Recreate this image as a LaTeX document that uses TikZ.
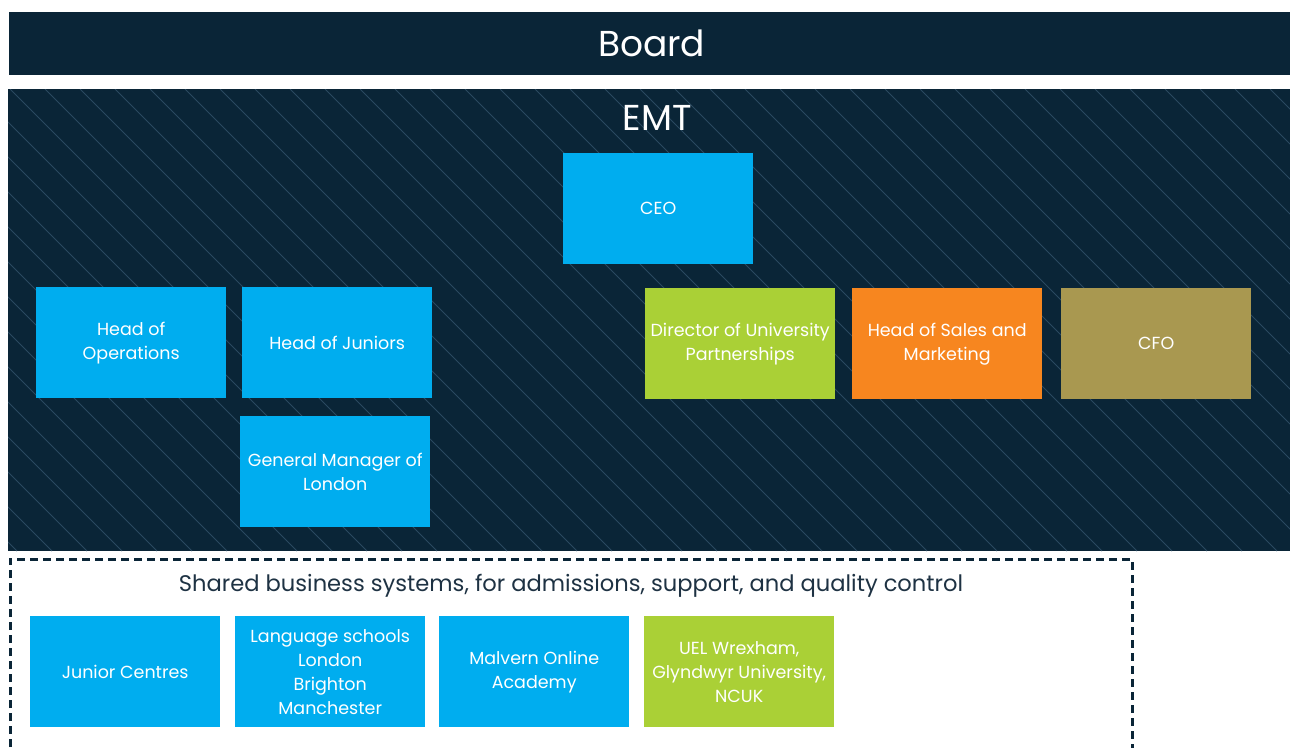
\documentclass[tikz,border=0pt]{standalone}
\usepackage{fontspec}
\setmainfont{Poppins}
\usetikzlibrary{positioning, calc}

\definecolor{navy}{HTML}{0A2537}
\definecolor{hatchline}{HTML}{2A4960}
\definecolor{roleblue}{HTML}{00ADEF}
\definecolor{rolegreen}{HTML}{AAD036}
\definecolor{roleorange}{HTML}{F7861F}
\definecolor{roleolive}{HTML}{A99850}
\definecolor{darktext}{HTML}{1E3243}

\begin{document}
\begin{tikzpicture}[
  x=1pt, y=-1pt,
  band/.style    = {fill=navy, inner sep=0pt, anchor=north west},
  title/.style   = {text=white, font=\fontsize{36}{40}\selectfont},
  hatch/.style   = {draw=hatchline, line width=0.9pt},
  role/.style    = {fill=roleblue, text=white, inner sep=1pt,
                    minimum width=190pt, minimum height=111pt,
                    align=center, anchor=north west,
                    font=\fontsize{17.5}{24}\selectfont},
  shared/.style  = {draw=navy, line width=3pt,
                    dash pattern=on 8pt off 5pt},
  sharedlabel/.style = {text=darktext, font=\fontsize{22.6}{27}\selectfont},
]
\useasboundingbox (0,0) rectangle (1290,747);

% =============================================================
% Board and EMT bands
% =============================================================
\node[band, minimum width=1281pt, minimum height=63pt] (board) at (9,12) {};
\node[title] at ($(board.center)+(2,0)$) {Board};

\node[band, minimum width=1282pt, minimum height=462pt] (emt) at (8,89) {};
% diagonal hatching over the EMT band
\begin{scope}
  \clip (emt.north west) rectangle (emt.south east);
  \foreach \x in {-480,-445,...,1290}
    \draw[hatch] (\x,89) -- ++(462,462);
\end{scope}
\node[title] (emtlabel) at (657,118) {EMT};

% =============================================================
% EMT roles
% =============================================================
\node[role] (ceo)      at (563,153) {CEO};
\node[role] (ops)      at (36,287)  {Head of\\Operations};
\node[role] (juniors)  at (242,287) {Head of Juniors};
\node[role] (gmlondon) at (240,416) {General Manager of\\London};

\node[role, fill=rolegreen]  (dup)   at (645,288)  {Director of University\\Partnerships};
\node[role, fill=roleorange] (sales) at (852,288)  {Head of Sales and\\Marketing};
\node[role, fill=roleolive]  (cfo)   at (1061,288) {CFO};

% =============================================================
% Shared business systems (open at the bottom)
% =============================================================
\draw[shared] (10,760) -- (10,559) -- (1132,559) -- (1132,760);
\node[sharedlabel] (sharedlabel) at (571,586)
  {Shared business systems, for admissions, support, and quality control};

\node[role] (centres) at (30,616)  {Junior Centres};
\node[role] (lang)    at (235,616) {Language schools\\London\\Brighton\\Manchester};
\node[role] (malvern) at (439,616) {Malvern Online\\Academy};
\node[role, fill=rolegreen] (uel) at (644,616)
  {UEL Wrexham,\\Glyndwyr University,\\NCUK};

\end{tikzpicture}
\end{document}
